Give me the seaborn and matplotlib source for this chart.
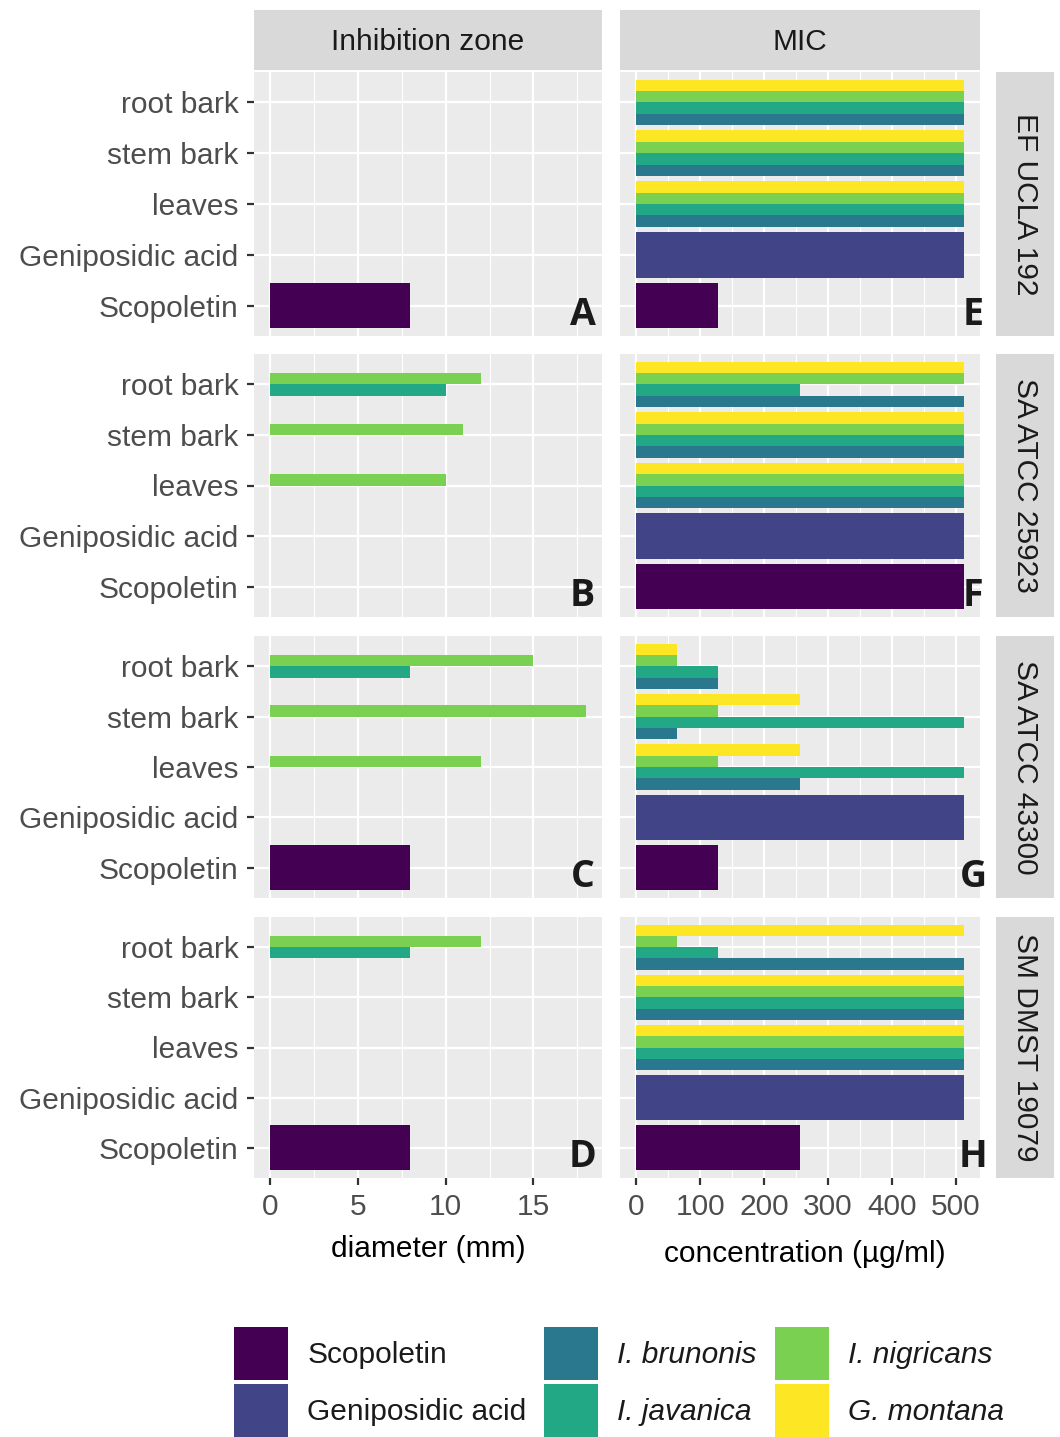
import pandas as pd
import seaborn as sns
import matplotlib.pyplot as plt
from matplotlib.patches import Patch

# categories
parts = ["root bark", "stem bark", "leaves", "Geniposidic acid", "Scopoletin"]
plant_parts = ["root bark", "stem bark", "leaves"]
species = ["I. brunonis", "I. javanica", "I. nigricans", "G. montana"]
strains = ["EF UCLA 192", "SA ATCC 25923", "SA ATCC 43300", "SM DMST 19079"]
iz_letters = ["A", "B", "C", "D"]
mic_letters = ["E", "F", "G", "H"]

# inhibition zone diameter (mm), per strain: [root bark, stem bark, leaves]
iz_brunonis = [[0, 0, 0], [0, 0, 0], [0, 0, 0], [0, 0, 0]]
iz_javanica = [[0, 0, 0], [10, 0, 0], [8, 0, 0], [8, 0, 0]]
iz_nigricans = [[0, 0, 0], [12, 11, 10], [15, 18, 12], [12, 0, 0]]
iz_montana = [[0, 0, 0], [0, 0, 0], [0, 0, 0], [0, 0, 0]]
iz_geniposidic = [0, 0, 0, 0]
iz_scopoletin = [8, 0, 8, 8]

# MIC (ug/ml), per strain: [root bark, stem bark, leaves]
mic_brunonis = [[512, 512, 512], [512, 512, 512], [128, 64, 256], [512, 512, 512]]
mic_javanica = [[512, 512, 512], [256, 512, 512], [128, 512, 512], [128, 512, 512]]
mic_nigricans = [[512, 512, 512], [512, 512, 512], [64, 128, 128], [64, 512, 512]]
mic_montana = [[512, 512, 512], [512, 512, 512], [64, 256, 256], [512, 512, 512]]
mic_geniposidic = [512, 512, 512, 512]
mic_scopoletin = [128, 512, 128, 256]

colors = {
    "Scopoletin": "#440154",
    "Geniposidic acid": "#414487",
    "I. brunonis": "#2A788E",
    "I. javanica": "#22A884",
    "I. nigricans": "#7AD151",
    "G. montana": "#FDE725",
}
# top-to-bottom order inside a group
dodge_order = ["G. montana", "I. nigricans", "I. javanica", "I. brunonis"]

plt.rcParams["font.family"] = ["Liberation Sans", "DejaVu Sans"]

W, H = 1060, 1437
fig = plt.figure(figsize=(W / 100, H / 100), dpi=100)


def px_rect(x0, y0, x1, y1):
    return [x0 / W, 1 - y1 / H, (x1 - x0) / W, (y1 - y0) / H]


cols = [(254, 602), (620, 980)]
rows = [(72, 336), (354, 617), (636, 898), (917, 1178)]
FS = 21.5


def draw_panel(ax, vals, genip, scop, xlim, major, minor, letter, letter_x):
    ax.set_facecolor("#EBEBEB")
    rec = []
    for sp, v in zip(species, vals):
        for p, x in zip(plant_parts, v):
            rec.append({"part": p, "species": sp, "value": x})
    plant_df = pd.DataFrame(rec)
    sns.barplot(data=plant_df, x="value", y="part", hue="species", order=parts,
                hue_order=dodge_order, palette=colors, width=0.9, errorbar=None,
                saturation=1, linewidth=0, legend=False, ax=ax)
    comp_df = pd.DataFrame({"part": ["Geniposidic acid", "Scopoletin"],
                            "value": [genip, scop]})
    sns.barplot(data=comp_df, x="value", y="part", hue="part", order=parts,
                palette=colors, width=0.9, dodge=False, errorbar=None,
                saturation=1, linewidth=0, legend=False, ax=ax)
    ax.set_xlim(*xlim)
    ax.set_ylim(4.6, -0.6)
    ax.set_xticks(major)
    ax.set_xticks(minor, minor=True)
    ax.set_yticks(range(len(parts)))
    ax.set_yticklabels(parts)
    ax.set_axisbelow(True)
    ax.grid(False)
    ax.xaxis.grid(True, which="major", color="white", lw=1.6)
    ax.xaxis.grid(True, which="minor", color="white", lw=0.8)
    ax.yaxis.grid(True, which="major", color="white", lw=1.6)
    for s in ax.spines.values():
        s.set_visible(False)
    ax.set_xlabel("")
    ax.set_ylabel("")
    ax.tick_params(which="major", length=5, width=1.6, color="#333333",
                   labelsize=FS, labelcolor="#4D4D4D", pad=6)
    ax.tick_params(which="minor", length=0)
    ax.text(letter_x, 4.38, letter, ha="center", va="baseline", fontsize=27,
            fontweight="bold", family=["Open Sans", "DejaVu Sans"], color="#1A1A1A")


for i, strain in enumerate(strains):
    y0, y1 = rows[i]
    ax_l = fig.add_axes(px_rect(cols[0][0], y0, cols[0][1], y1))
    draw_panel(ax_l,
               [iz_brunonis[i], iz_javanica[i], iz_nigricans[i], iz_montana[i]],
               iz_geniposidic[i], iz_scopoletin[i], (-0.9, 18.9),
               [0, 5, 10, 15], [2.5, 7.5, 12.5, 17.5], iz_letters[i], 17.8)
    ax_r = fig.add_axes(px_rect(cols[1][0], y0, cols[1][1], y1))
    draw_panel(ax_r,
               [mic_brunonis[i], mic_javanica[i], mic_nigricans[i], mic_montana[i]],
               mic_geniposidic[i], mic_scopoletin[i], (-25.6, 537.6),
               [0, 100, 200, 300, 400, 500], [50, 150, 250, 350, 450],
               mic_letters[i], 527)
    ax_r.tick_params(left=False, labelleft=False)
    if i < 3:
        ax_l.tick_params(bottom=False, labelbottom=False)
        ax_r.tick_params(bottom=False, labelbottom=False)

    # right strip
    sax = fig.add_axes(px_rect(996, y0, 1054, y1))
    sax.set_facecolor("#D9D9D9")
    sax.set_xticks([])
    sax.set_yticks([])
    for s in sax.spines.values():
        s.set_visible(False)
    sax.text(0.5, 0.5, strain, rotation=-90, ha="center", va="center",
             fontsize=FS, color="#1A1A1A", transform=sax.transAxes)

# top strips
for (x0, x1), title in zip(cols, ["Inhibition zone", "MIC"]):
    sax = fig.add_axes(px_rect(x0, 10, x1, 70))
    sax.set_facecolor("#D9D9D9")
    sax.set_xticks([])
    sax.set_yticks([])
    for s in sax.spines.values():
        s.set_visible(False)
    sax.text(0.5, 0.46, title, ha="center", va="center", fontsize=FS,
             color="#1A1A1A", transform=sax.transAxes)

fig.text(428 / W, 1 - 1249 / H, "diameter (mm)", ha="center", va="center",
         fontsize=FS, color="black")
fig.text(805 / W, 1 - 1254 / H, "concentration (\u00b5g/ml)", ha="center",
         va="center", fontsize=FS, color="black")

legend_order = ["Scopoletin", "Geniposidic acid", "I. brunonis", "I. javanica",
                "I. nigricans", "G. montana"]
handles = [Patch(facecolor=colors[k], edgecolor="none") for k in legend_order]
leg = fig.legend(handles, legend_order, ncol=3, loc="upper left",
                 bbox_to_anchor=(234 / W, 1 - 1327 / H), frameon=False,
                 fontsize=FS, handlelength=1.8, handleheight=2.35,
                 handletextpad=0.65, columnspacing=0.6, labelspacing=0.15,
                 borderpad=0, borderaxespad=0)
for t in leg.get_texts():
    t.set_color("#1A1A1A")
    if t.get_text() in species:
        t.set_style("italic")

fig.savefig("out.png", dpi=100)
